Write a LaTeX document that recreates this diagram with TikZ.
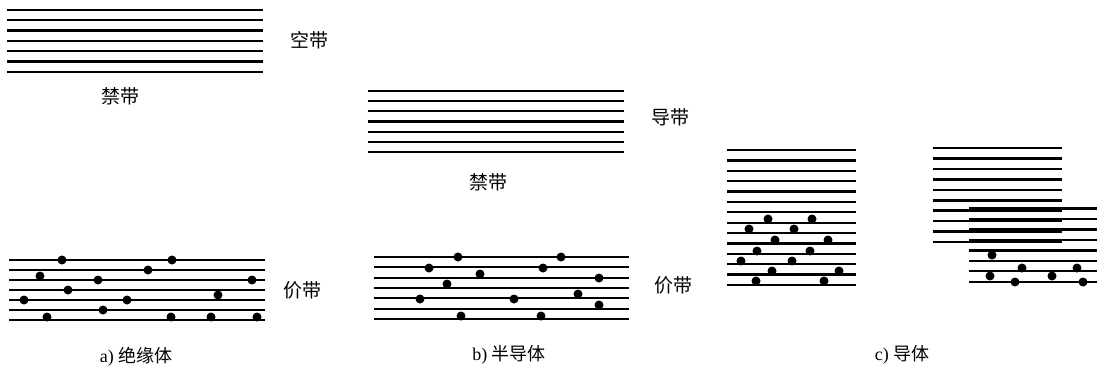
\documentclass[tikz,border=0pt]{standalone}
\usepackage{fontspec}
\setmainfont{Liberation Serif}
\newfontfamily\cjk{Noto Sans CJK SC}
\begin{document}
\begin{tikzpicture}[x=1pt,y=-1pt,
  band/.style={line width=2.3pt},
  electron/.style={fill=black},
  lbl/.style={font=\fontsize{19}{19}\selectfont\cjk, inner sep=0pt},
  captxt/.style={font=\fontsize{18}{18}\selectfont, inner sep=0pt}]
\useasboundingbox (0,0) rectangle (1104,368);
% ---- panel a ----
\foreach \i in {0,...,6} \draw[band] (7,10+10.3*\i) -- (263,10+10.3*\i);
\foreach \i in {0,...,6} \draw[band] (9,260+10*\i) -- (265,260+10*\i);
\foreach \p in {(62,260),(172,260),(148,270),(40,276),(98,280),(252,280),(68,290),(24,300),(127,300),(218,295),(103,310),(47,317),(171,317),(211,317),(257,317)}
  \fill[electron] \p circle (4.5);
\node[lbl] (ka) at (309,40) {空带};
\node[lbl] (ja) at (120,96) {禁带};
\node[lbl] (va) at (302,290) {价带};
\node[captxt] (ca) at (136,357) {a) {\cjk 绝缘体}};
% ---- panel b ----
\foreach \i in {0,...,6} \draw[band] (368,91+10.17*\i) -- (624,91+10.17*\i);
\foreach \i in {0,...,6} \draw[band] (374,257+10.33*\i) -- (629,257+10.33*\i);
\foreach \p in {(458,257),(561,257),(429,268),(543,268),(480,274),(599,278),(447,284),(420,299),(514,299),(578,294),(599,305),(461,316),(541,316)}
  \fill[electron] \p circle (4.5);
\node[lbl] (db) at (670,117) {导带};
\node[lbl] (jb) at (488,182) {禁带};
\node[lbl] (vb) at (673,285) {价带};
\node[captxt] (cb) at (509,355) {b) {\cjk 半导体}};
% ---- panel c left ----
\foreach \i in {0,...,13} \draw[band] (727,150+10.38*\i) -- (856,150+10.38*\i);
\foreach \p in {(768,219),(812,219),(749,229),(794,229),(775,240),(828,240),(757,251),(810,251),(741,261),(792,261),(772,271),(839,271),(756,281),(824,281)}
  \fill[electron] \p circle (4.5);
% ---- panel c right ----
\foreach \y in {148,158.5,169,179.5,190,200.5,210.5,221,231.5,242} \draw[band] (933,\y) -- (1062,\y);
\foreach \y in {208.5,219,229.5,240,250.5,261,271,282} \draw[band] (969,\y) -- (1097,\y);
\foreach \p in {(992,255),(1022,268),(1077,268),(990,276),(1052,276),(1015,282),(1083,282)}
  \fill[electron] \p circle (4.5);
\node[captxt] (cc) at (902,355) {c) {\cjk 导体}};
\end{tikzpicture}
\end{document}
